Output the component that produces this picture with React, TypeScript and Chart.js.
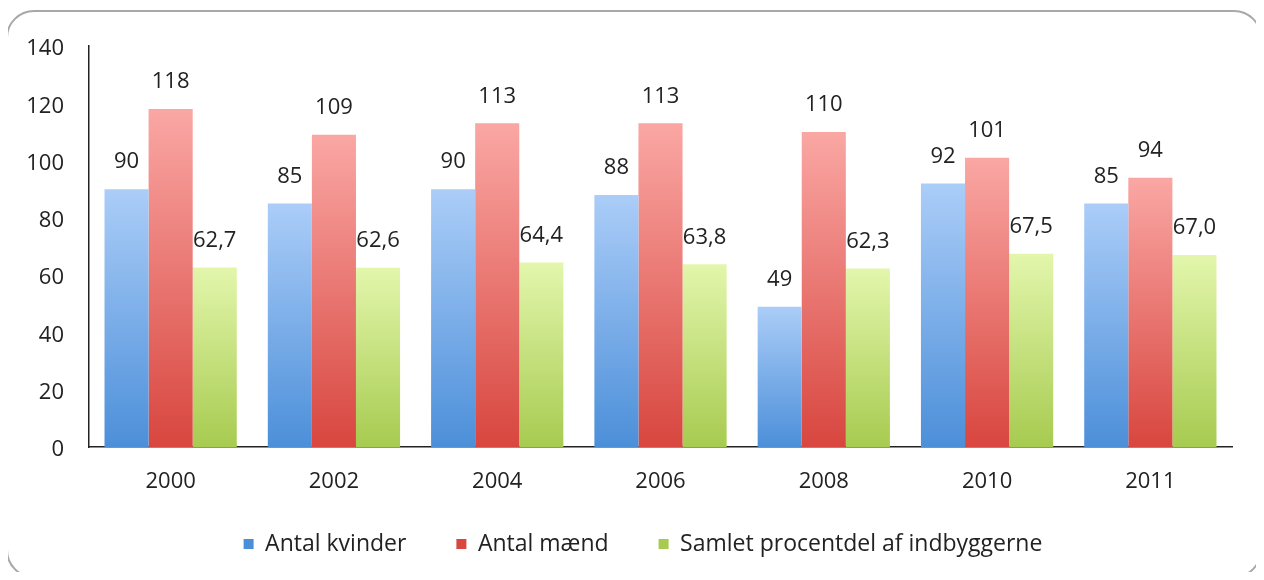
import React, { useEffect, useRef } from "react";
import { Chart, registerables } from "chart.js";

Chart.register(...registerables);

const years = ["2000", "2002", "2004", "2006", "2008", "2010", "2011"];
const women = [90, 85, 90, 88, 49, 92, 85];
const men = [118, 109, 113, 113, 110, 101, 94];
const percent = [62.7, 62.6, 64.4, 63.8, 62.3, 67.5, 67.0];
const seriesNames = ["Antal kvinder", "Antal mænd", "Samlet procentdel af indbyggerne"];
const yTicks = [0, 20, 40, 60, 80, 100, 120, 140];

const FONT = "'Open Sans', 'Liberation Sans', sans-serif";
const TEXT = "#222222";

function gradient(top: string, bottom: string, solid: string) {
  return (ctx: any) => {
    const chart = ctx.chart;
    const area = chart.chartArea;
    if (!area || ctx.type !== "data") return solid;
    const yScale = chart.scales.y;
    const v = ctx.parsed ? ctx.parsed.y : ctx.raw;
    const yTop = yScale.getPixelForValue(v);
    const yBot = yScale.getPixelForValue(0);
    if (!isFinite(yTop) || !isFinite(yBot) || yTop === yBot) return solid;
    const g = chart.ctx.createLinearGradient(0, yTop, 0, yBot);
    g.addColorStop(0, top);
    g.addColorStop(1, bottom);
    return g;
  };
}

const labelPlugin = {
  id: "valueLabels",
  afterDatasetsDraw(chart: any) {
    const ctx = chart.ctx;
    ctx.save();
    ctx.font = `22px ${FONT}`;
    ctx.fillStyle = TEXT;
    ctx.textAlign = "center";
    ctx.textBaseline = "middle";
    chart.data.datasets.forEach((ds: any, di: number) => {
      const meta = chart.getDatasetMeta(di);
      meta.data.forEach((el: any, i: number) => {
        const v = ds.data[i];
        const txt = di === 2 ? v.toFixed(1).replace(".", ",") : String(v);
        ctx.fillText(txt, el.x, el.y - 27);
      });
    });
    ctx.restore();
  },
};

// Move the legend block to where the reference has it (centre of text row at y≈544, centred at x≈643)
const legendPlacer = {
  id: "legendPlacer",
  afterLayout(chart: any) {
    const lg = chart.legend;
    if (!lg) return;
    const padding = lg.options.labels.padding;
    const itemH = lg.options.labels.font.size;
    const targetTop = 544 - padding - itemH / 2;
    const dy = targetTop - lg.top;
    lg.top += dy;
    lg.bottom += dy;
    const dx = 643 - (lg.left + lg.right) / 2;
    lg.left += dx;
    lg.right += dx;
  },
};

export default function App() {
  const ref = useRef<HTMLCanvasElement>(null);

  useEffect(() => {
    if (!ref.current) return;
    const chart = new Chart(ref.current, {
      type: "bar",
      data: {
        labels: years,
        datasets: [
          {
            label: seriesNames[0],
            data: women,
            backgroundColor: gradient("#abcdf8", "#4c8fd9", "#5b9bd5"),
            borderWidth: 0,
          },
          {
            label: seriesNames[1],
            data: men,
            backgroundColor: gradient("#faa7a4", "#d8463f", "#e06660"),
            borderWidth: 0,
          },
          {
            label: seriesNames[2],
            data: percent,
            backgroundColor: gradient("#e3f6ac", "#a7cb50", "#bfe07a"),
            borderWidth: 0,
          },
        ],
      },
      options: {
        animation: false,
        responsive: false,
        maintainAspectRatio: false,
        layout: { padding: { left: 20, right: 32, top: 46, bottom: 0 } },
        datasets: { bar: { categoryPercentage: 0.81, barPercentage: 1.0 } },
        scales: {
          x: {
            grid: { display: false, drawTicks: false },
            border: { display: true, color: "#222", width: 1.5 },
            ticks: {
              color: TEXT,
              font: { family: FONT, size: 22 },
              padding: 22,
            },
            afterFit(scale: any) {
              scale.height = 50;
            },
          },
          y: {
            min: 0,
            max: 140,
            afterBuildTicks(scale: any) {
              scale.ticks = yTicks.map((v) => ({ value: v }));
            },
            grid: { display: false, drawTicks: false },
            border: { display: true, color: "#222", width: 1.5 },
            ticks: {
              color: TEXT,
              font: { family: FONT, size: 22 },
              padding: 25,
              labelOffset: 3,
            },
            afterFit(scale: any) {
              scale.width = 69;
            },
          },
        },
        plugins: {
          legend: {
            position: "bottom",
            labels: {
              color: TEXT,
              font: { family: FONT, size: 23 },
              boxWidth: 10,
              boxHeight: 10,
              padding: 50,
            },
          },
          tooltip: { enabled: false },
        },
      },
      plugins: [labelPlugin, legendPlacer],
    });
    return () => chart.destroy();
  }, []);

  return (
    <div style={{ position: "relative", width: 1264, height: 580, margin: -8, overflow: "hidden", background: "#fff" }}>
      <div
        style={{
          position: "absolute",
          left: 6,
          top: 10,
          width: 1256,
          height: 568,
          border: "2px solid #a8a8a8",
          borderRadius: 28,
          boxSizing: "border-box",
        }}
      />
      <canvas ref={ref} width={1264} height={580} style={{ position: "absolute", left: 0, top: 0, width: 1264, height: 580 }} />
    </div>
  );
}
